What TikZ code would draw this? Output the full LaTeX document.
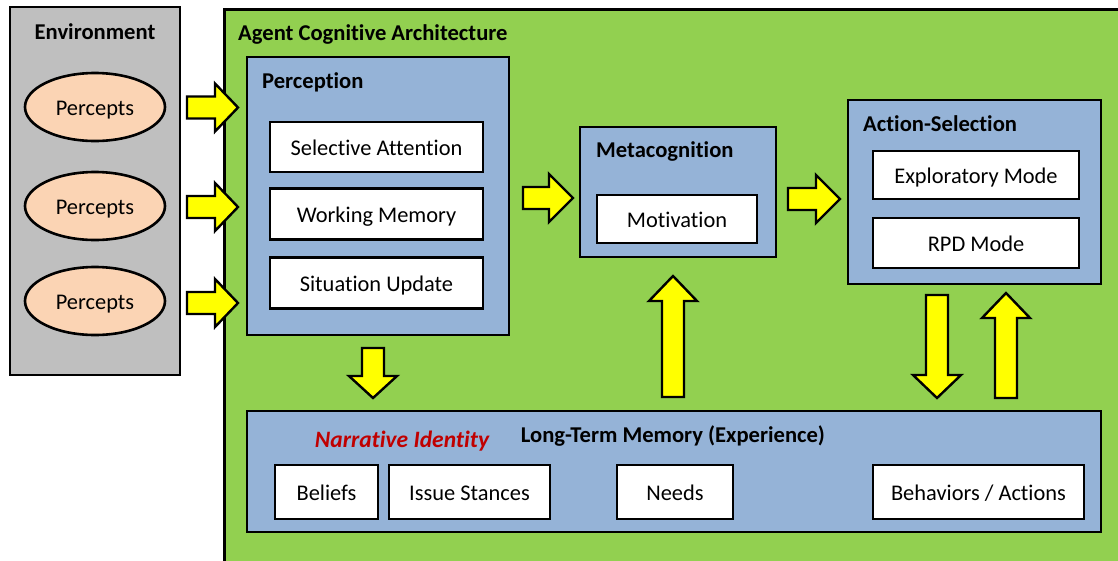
\documentclass[tikz,border=0pt]{standalone}
\usepackage{fontspec}
\setmainfont{Carlito}[Ligatures=NoCommon]
\usetikzlibrary{shapes.geometric}
\definecolor{envgray}{HTML}{BFBFBF}
\definecolor{agentgreen}{HTML}{92D050}
\definecolor{boxblue}{HTML}{95B3D7}
\definecolor{peach}{HTML}{FBD4B4}
\definecolor{arrowyellow}{HTML}{FFFF00}
\definecolor{narrred}{HTML}{C00000}
\newcommand{\hblockarrow}[4]{%
  \draw[blockarrow] (#1,{#4-11}) -- (#2,{#4-11}) -- (#2,{#4-24}) -- (#3,#4) -- (#2,{#4+24}) -- (#2,{#4+11}) -- (#1,{#4+11}) -- cycle;}
\newcommand{\vblockarrow}[4]{%
  \draw[blockarrow] ({#1-11},#2) -- ({#1-11},#3) -- ({#1-24},#3) -- (#1,#4) -- ({#1+24},#3) -- ({#1+11},#3) -- ({#1+11},#2) -- cycle;}
\tikzset{
  frame/.style={draw=black, line width=2.6pt, rectangle, inner sep=0pt},
  bluebox/.style={frame, fill=boxblue},
  whitebox/.style={frame, fill=white, line width=2.4pt, font=\fontsize{22.4}{26}\selectfont, text height=20pt, text depth=4pt},
  percept/.style={draw=black, line width=2.6pt, ellipse, fill=peach, minimum width=140pt, minimum height=68pt, inner sep=0pt, font=\fontsize{22.4}{26}\selectfont, text height=20pt, text depth=4pt},
  title/.style={font=\fontsize{22.6}{26}\selectfont\bfseries, inner sep=0pt},
  blockarrow/.style={draw=black, fill=arrowyellow, line width=2.4pt, line join=miter},
}
\begin{document}
\begin{tikzpicture}[x=1pt, y=-1pt]
\useasboundingbox (0,0) rectangle (1118,560);
\clip (0,0) rectangle (1118,560);
% Environment
\node[frame, fill=envgray, minimum width=170pt, minimum height=368pt] (env) at (95,191) {};
\node[title, anchor=base] (envt) at (95,39) {Environment};
\node[percept] (p1) at (95,107) {Percepts};
\node[percept] (p2) at (95,206) {Percepts};
\node[percept] (p3) at (95,301) {Percepts};
% Agent
\node[frame, fill=agentgreen, minimum width=907pt, minimum height=567pt, anchor=north west] (agent) at (223,8) {};
\node[title, anchor=base west] (agentt) at (238,40) {Agent Cognitive Architecture};
% Perception
\node[bluebox, minimum width=262pt, minimum height=278pt] (perc) at (378,196) {};
\node[title, anchor=base west] (perct) at (262,88) {Perception};
\node[whitebox, minimum width=213pt, minimum height=50pt] (sel) at (376.5,147) {Selective Attention};
\node[whitebox, minimum width=213pt, minimum height=51pt] (wm) at (376.5,214) {Working Memory};
\node[whitebox, minimum width=213pt, minimum height=51pt] (su) at (376.5,283) {Situation Update};
% Metacognition
\node[bluebox, minimum width=196pt, minimum height=130pt] (meta) at (678,192) {};
\node[title, anchor=base west] (metat) at (596,157) {Metacognition};
\node[whitebox, minimum width=160pt, minimum height=48pt] (mot) at (677,219) {Motivation};
% Action selection
\node[bluebox, minimum width=253pt, minimum height=184pt] (act) at (974.5,192) {};
\node[title, anchor=base west] (actt) at (863,131) {Action-Selection};
\node[whitebox, minimum width=206pt, minimum height=48pt] (expl) at (976,175) {Exploratory Mode};
\node[whitebox, minimum width=206pt, minimum height=50pt] (rpd) at (976,243) {RPD Mode};
% Long-term memory
\node[bluebox, minimum width=854pt, minimum height=121pt] (ltm) at (674,471.5) {};
\node[title, anchor=base] (ltmt) at (673,442) {Long-Term Memory (Experience)};
\node[title, anchor=base, text=narrred, font=\fontsize{23.5}{27}\selectfont\bfseries\itshape] (narr) at (402,447) {Narrative Identity};
\node[whitebox, minimum width=103pt, minimum height=54pt] (bel) at (326.5,492) {Beliefs};
\node[whitebox, minimum width=161pt, minimum height=54pt] (iss) at (469.5,492) {Issue Stances};
\node[whitebox, minimum width=116pt, minimum height=54pt] (needs) at (675,492) {Needs};
\node[whitebox, minimum width=211pt, minimum height=54pt] (beh) at (978.5,492) {Behaviors / Actions};
% Block arrows
\hblockarrow{187}{215}{238}{107.5}
\hblockarrow{187}{215}{238}{207}
\hblockarrow{187}{215}{238}{303}
\hblockarrow{523}{549}{573}{198}
\hblockarrow{788}{816}{840}{199}
\vblockarrow{373}{348}{376}{398}
\vblockarrow{673}{397}{301}{276}
\vblockarrow{937}{295}{375}{398}
\vblockarrow{1006}{398}{318}{293}
\end{tikzpicture}
\end{document}
